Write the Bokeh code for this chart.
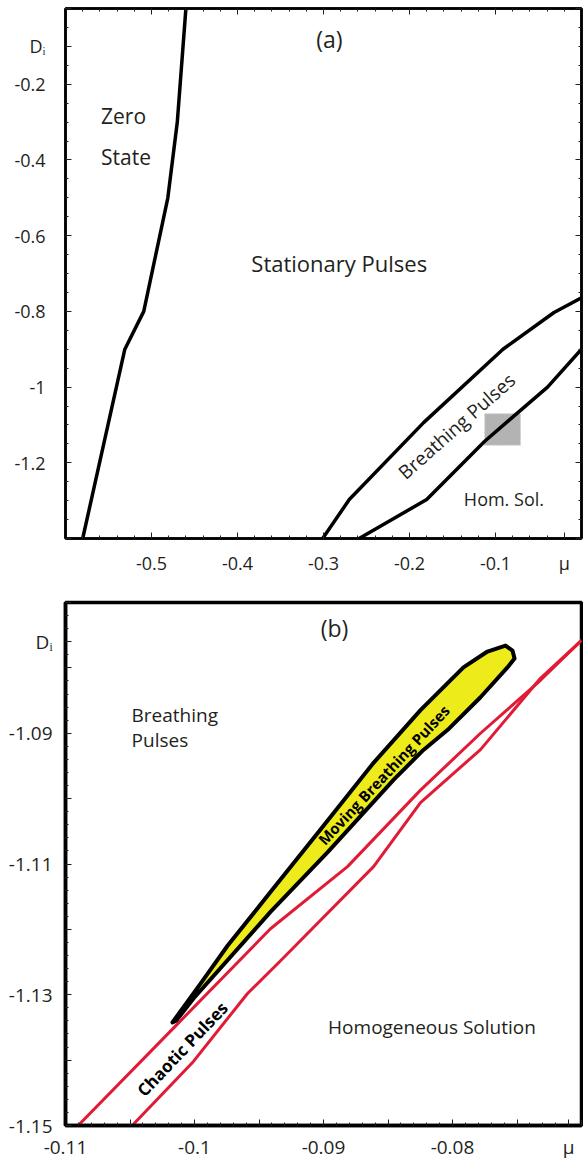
from bokeh.plotting import figure
from bokeh.models import FixedTicker, LinearAxis, Range1d, ColumnDataSource
from bokeh.layouts import column
from bokeh.embed import file_html
from bokeh.resources import INLINE
from bokeh.core.properties import value

FONT = "Open Sans"
TXT = "#231f20"

# ---------------- Panel (a) data ----------------
zero_mu = [-0.460, -0.470, -0.481, -0.509, -0.531, -0.580]
zero_D = [0.0, -0.30, -0.50, -0.80, -0.90, -1.40]

breath_up_mu = [-0.301, -0.270, -0.1836, -0.0913, -0.032, 0.0]
breath_up_D = [-1.40, -1.297, -1.094, -0.900, -0.803, -0.764]

breath_lo_mu = [-0.2586, -0.180, -0.1125, -0.0395, 0.0]
breath_lo_D = [-1.40, -1.297, -1.143, -1.000, -0.900]

zoom_box = dict(left=-0.1125, right=-0.071, bottom=-1.1535, top=-1.0705)

# tick labels; the axis names (mu, D_i) sit at the end of each axis like in the original
A_X_TICKS = [-0.6, -0.5, -0.4, -0.3, -0.2, -0.1, -0.02, 0.0]
A_X_LABELS = ["", "-0.5", "-0.4", "-0.3", "-0.2", "-0.1", "μ", ""]
A_Y_TICKS = [-1.4, -1.2, -1.0, -0.8, -0.6, -0.4, -0.2, -0.1, 0.0]
A_Y_LABELS = ["", "-1.2", "-1", "-0.8", "-0.6", "-0.4", "-0.2", "Dᵢ", ""]

# ---------------- Panel (b) data ----------------
chaos_up_mu = [-0.10902, -0.10163, -0.09411, -0.08814, -0.08248, -0.07783, -0.07318, -0.07]
chaos_up_D = [-1.15, -1.1351, -1.1199, -1.1104, -1.0987, -1.0900, -1.0819, -1.0758]

chaos_lo_mu = [-0.10483, -0.10008, -0.09589, -0.09333, -0.08612, -0.08248, -0.07783, -0.07318, -0.07]
chaos_lo_D = [-1.15, -1.1402, -1.1298, -1.1248, -1.1104, -1.1006, -1.0925, -1.0816, -1.0758]

moving_mu = [-0.10171, -0.09953, -0.09744, -0.09411, -0.09023, -0.08612, -0.08248, -0.07915,
             -0.07729, -0.07589, -0.07535, -0.07519, -0.07574, -0.07783, -0.08039, -0.08225,
             -0.08457, -0.08969, -0.09411, -0.10008, -0.10140]
moving_D = [-1.13423, -1.12830, -1.12251, -1.11430, -1.10472, -1.09453, -1.08647, -1.07993,
            -1.07750, -1.07659, -1.07735, -1.07856, -1.07993, -1.08449, -1.08951, -1.09255,
            -1.09712, -1.10822, -1.11733, -1.13058, -1.13392]

B_X_TICKS = [-0.11, -0.105, -0.1, -0.095, -0.09, -0.085, -0.08, -0.075, -0.071, -0.07]
B_X_LABELS = ["-0.11", "", "-0.1", "", "-0.09", "", "-0.08", "", "μ", ""]
B_Y_TICKS = [-1.15, -1.14, -1.13, -1.12, -1.11, -1.10, -1.09, -1.08, -1.076, -1.07]
B_Y_LABELS = ["-1.15", "", "-1.13", "", "-1.11", "", "-1.09", "", "Dᵢ", ""]


def style_axis(ax, ticks, minor, labels, size, standoff, lw, show=True):
    ax.ticker = FixedTicker(ticks=ticks, minor_ticks=minor)
    if show:
        ax.major_label_overrides = {t: l for t, l in zip(ticks, labels)}
    else:
        ax.major_label_overrides = {t: "" for t in ticks}
    ax.major_tick_in = 6
    ax.major_tick_out = 0
    ax.minor_tick_in = 3
    ax.minor_tick_out = 0
    ax.axis_line_color = "black"
    ax.axis_line_width = lw
    ax.major_tick_line_color = TXT
    ax.minor_tick_line_color = TXT
    ax.major_tick_line_width = 1
    ax.minor_tick_line_width = 1
    ax.major_label_text_font = FONT
    ax.major_label_text_color = TXT
    ax.major_label_text_font_size = size
    ax.major_label_standoff = standoff if show else 0


# =================== Panel (a) ===================
pa = figure(width=583, height=588, x_range=Range1d(-0.6, 0.0), y_range=Range1d(-1.4, 0.0),
            output_backend="svg", toolbar_location=None,
            min_border_left=64, min_border_right=1, min_border_top=8, min_border_bottom=50)
pa.grid.visible = False
pa.outline_line_color = "black"
pa.outline_line_width = 2.5
pa.background_fill_color = "white"
pa.border_fill_color = "white"

a_x_minor = [round(-0.6 + 0.02 * i, 4) for i in range(31)]
a_y_minor = [round(-1.4 + 0.05 * i, 4) for i in range(29)]

style_axis(pa.xaxis[0], A_X_TICKS, a_x_minor, A_X_LABELS, "18px", 12, 2.5)
style_axis(pa.yaxis[0], A_Y_TICKS, a_y_minor, A_Y_LABELS, "18px", 20, 2.5)
top_a = LinearAxis()
right_a = LinearAxis()
pa.add_layout(top_a, "above")
pa.add_layout(right_a, "right")
style_axis(top_a, A_X_TICKS[:6] + [0.0], a_x_minor, [], "18px", 0, 2.5, show=False)
style_axis(right_a, A_Y_TICKS[:7] + [0.0], a_y_minor, [], "18px", 0, 2.5, show=False)

pa.quad(left=[zoom_box["left"]], right=[zoom_box["right"]], bottom=[zoom_box["bottom"]],
        top=[zoom_box["top"]], fill_color="#b3b3b3", line_color="#cfcfcf",
        line_width=1, line_dash="2 1")
pa.line(zero_mu, zero_D, line_color="black", line_width=3.5, line_join="round")
pa.line(breath_up_mu, breath_up_D, line_color="black", line_width=3.5, line_join="round")
pa.line(breath_lo_mu, breath_lo_D, line_color="black", line_width=3.5, line_join="round")

a_regions = ColumnDataSource(dict(
    x=[-0.2932, -0.5325, -0.5296, -0.2817, -0.0902],
    y=[-0.0794, -0.2831, -0.3915, -0.6720, -1.2963],
    text=["(a)", "Zero", "State", "Stationary Pulses", "Hom. Sol."],
    size=["23px", "21px", "21px", "22px", "18px"],
))
pa.text(x="x", y="y", text="text", source=a_regions, text_font=value(FONT),
        text_font_size="size", text_color=TXT, text_align="center", text_baseline="middle")
pa.text(x=[-0.1452], y=[-1.1032], text=["Breathing Pulses"], angle=0.724,
        text_font=value(FONT), text_font_size="19px", text_color=TXT,
        text_align="center", text_baseline="middle")

# =================== Panel (b) ===================
pb = figure(width=583, height=574, x_range=Range1d(-0.11, -0.07), y_range=Range1d(-1.15, -1.07),
            output_backend="svg", toolbar_location=None,
            min_border_left=65, min_border_right=2, min_border_top=14, min_border_bottom=34)
pb.grid.visible = False
pb.outline_line_color = "black"
pb.outline_line_width = 3.5
pb.background_fill_color = "white"
pb.border_fill_color = "white"

b_x_minor = [round(-0.11 + 0.001 * i, 4) for i in range(41)]
b_y_minor = [round(-1.15 + 0.002 * i, 4) for i in range(41)]
style_axis(pb.xaxis[0], B_X_TICKS, b_x_minor, B_X_LABELS, "19px", 8, 3.5)
style_axis(pb.yaxis[0], B_Y_TICKS, b_y_minor, B_Y_LABELS, "19px", 13, 3.5)

pb.line(chaos_up_mu, chaos_up_D, line_color="#e11b35", line_width=3, line_join="round")
pb.line(chaos_lo_mu, chaos_lo_D, line_color="#e11b35", line_width=3, line_join="round")
pb.patch(moving_mu, moving_D, fill_color="#edeb1a", line_color="black", line_width=4,
         line_join="round")

b_regions = ColumnDataSource(dict(
    x=[-0.08915, -0.08159],
    y=[-1.07392, -1.13499],
    text=["(b)", "Homogeneous Solution"],
    size=["23px", "19px"],
))
pb.text(x="x", y="y", text="text", source=b_regions, text_font=value(FONT),
        text_font_size="size", text_color=TXT, text_align="center", text_baseline="middle")
pb.text(x=[-0.10488, -0.10488], y=[-1.08723, -1.09103], text=["Breathing", "Pulses"],
        text_font=value(FONT), text_font_size="19px", text_color=TXT,
        text_align="left", text_baseline="middle")
pb.text(x=[-0.08533], y=[-1.09636], text=["Moving Breathing Pulses"], angle=0.82,
        text_font=value(FONT), text_font_size="15px", text_font_style="bold",
        text_color="black", text_align="center", text_baseline="middle")
pb.text(x=[-0.10095], y=[-1.13830], text=["Chaotic Pulses"], angle=0.81,
        text_font=value(FONT), text_font_size="17px", text_font_style="bold",
        text_color="black", text_align="center", text_baseline="middle")

layout = column(pa, pb, spacing=0)
open("out.html", "w").write(file_html(layout, INLINE))
